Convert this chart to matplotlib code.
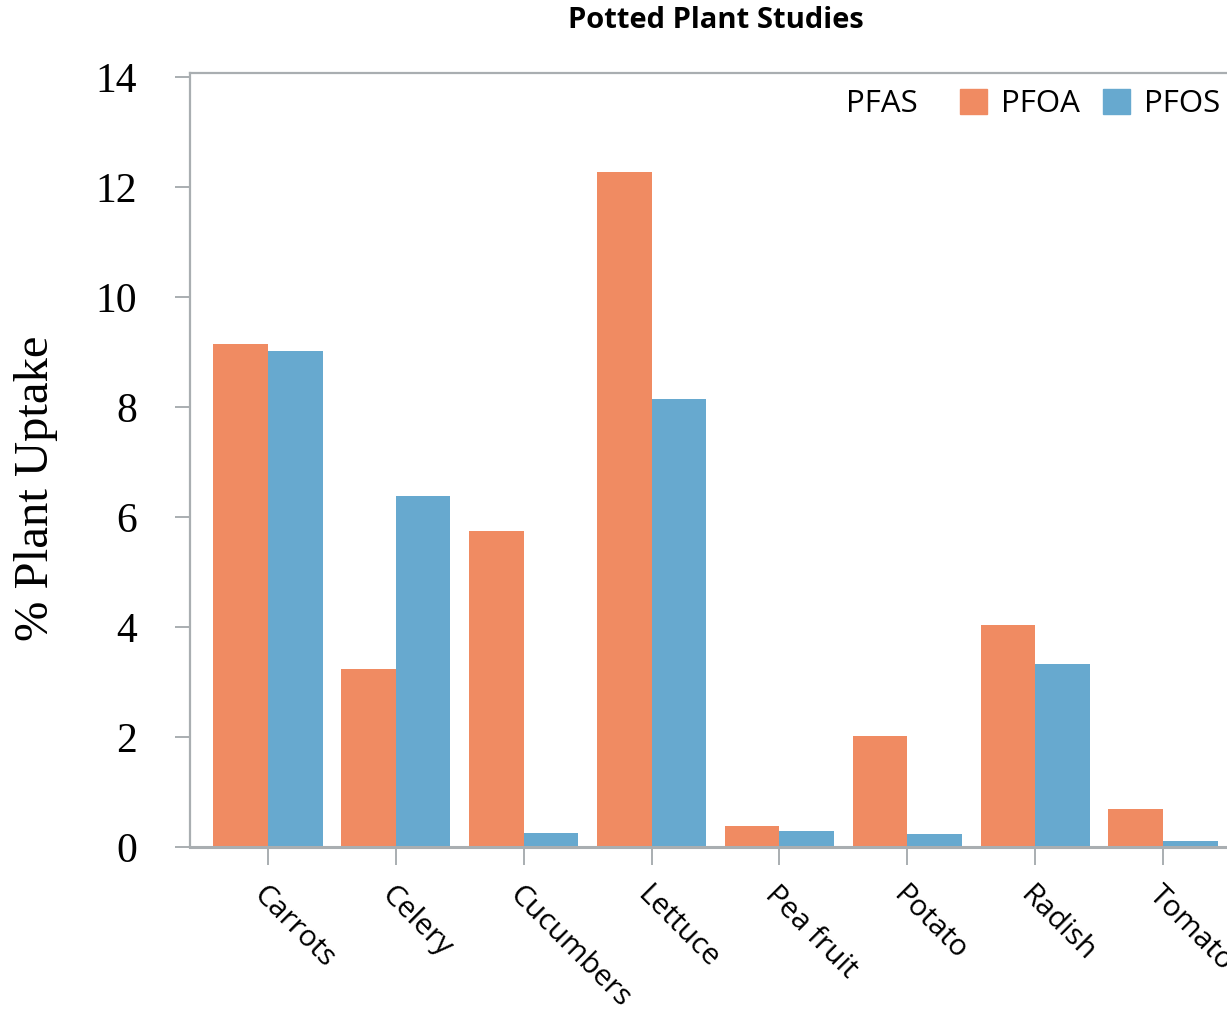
import matplotlib
matplotlib.use("Agg")
import matplotlib.pyplot as plt
import numpy as np
from matplotlib.patches import Patch

# data
plants = ["Carrots", "Celery", "Cucumbers", "Lettuce", "Pea fruit", "Potato", "Radish", "Tomato"]
pfoa = [9.15, 3.24, 5.75, 12.27, 0.38, 2.02, 4.04, 0.69]
pfos = [9.02, 6.38, 0.25, 8.15, 0.29, 0.24, 3.33, 0.11]

orange = "#F08B62"
blue = "#67A9CF"
grey = "#A9AEB1"

W, H = 1227, 1010
fig = plt.figure(figsize=(W / 100, H / 100), dpi=100)
# axes runs past the right edge of the figure, like the original
ax = fig.add_axes([190 / W, 1 - 847 / H, (1241 - 190) / W, (847 - 73) / H])

x = np.arange(len(plants))
bw = 0.427
ax.bar(x - bw / 2, pfoa, bw, color=orange, linewidth=0)
ax.bar(x + bw / 2, pfos, bw, color=blue, linewidth=0)

ax.set_xlim(-0.61, len(plants) - 1 + 0.61)
ax.set_ylim(0, 14.07)
ax.set_yticks(range(0, 15, 2))
ax.set_xticks(x)
ax.set_xticklabels(plants, rotation=-45, ha="left", va="top", rotation_mode="anchor",
                   fontsize=21.5, family="Open Sans")
for lbl in ax.get_yticklabels():
    lbl.set_family("Liberation Serif")
    lbl.set_fontsize(30)

for s in ["left", "top", "bottom"]:
    ax.spines[s].set_color(grey)
    ax.spines[s].set_linewidth(1.6)
ax.spines["bottom"].set_linewidth(2.2)
ax.spines["right"].set_visible(False)
ax.tick_params(axis="both", color=grey, width=1.4)
ax.tick_params(axis="y", length=11, pad=27)
ax.tick_params(axis="x", length=13, pad=11)

fig.text(36 / W, 1 - 488 / H, "% Plant Uptake", rotation=90, ha="center", va="center",
         family="Liberation Serif", fontsize=35)

fig.text(716 / W, 1 - 20 / H, "Potted Plant Studies", ha="center", va="center",
         fontsize=21, fontweight="bold", family="Open Sans")

fig.text(846 / W, 1 - 104 / H, "PFAS", ha="left", va="center", fontsize=22.5, family="Open Sans")
handles = [Patch(color=orange, label="PFOA"), Patch(color=blue, label="PFOS")]
fig.legend(handles=handles, ncol=2, loc="center left", bbox_to_anchor=(932 / W, 1 - 104 / H),
           frameon=False, prop={"family": "Open Sans", "size": 22.5},
           handlelength=0.85, handleheight=0.85, handletextpad=0.45, columnspacing=0.75)

fig.savefig("out.png", dpi=100)
